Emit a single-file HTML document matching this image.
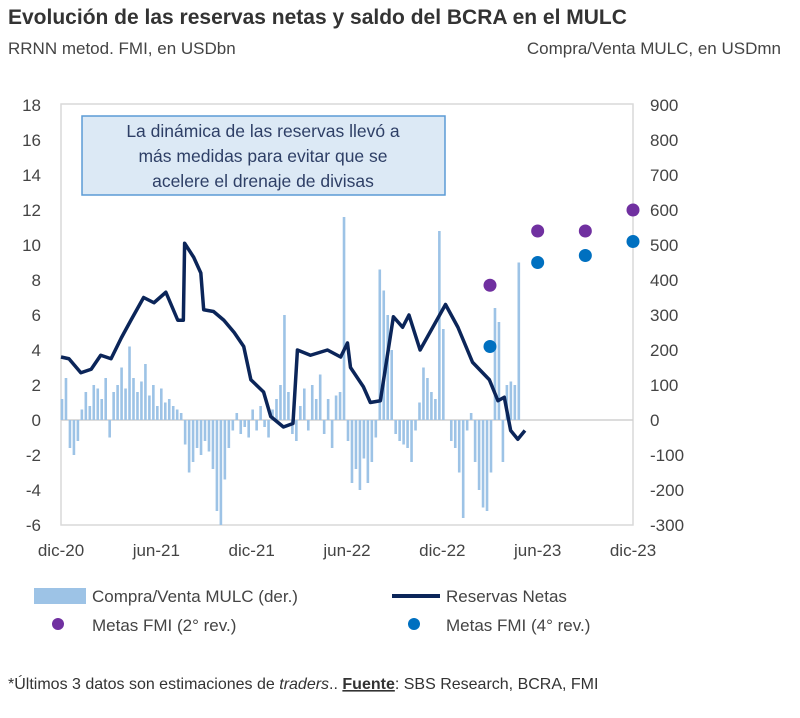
<!DOCTYPE html>
<html><head><meta charset="utf-8"><style>
body{margin:0;background:#fff;font-family:"Liberation Sans",sans-serif;}
svg text{font-family:"Liberation Sans",sans-serif;}
</style></head><body>
<svg width="800" height="713" viewBox="0 0 800 713" xmlns="http://www.w3.org/2000/svg">
<text x="8" y="24" font-size="21" font-weight="bold" fill="#333">Evolución de las reservas netas y saldo del BCRA en el MULC</text>
<text x="8" y="54" font-size="17" fill="#444">RRNN metod. FMI, en USDbn</text>
<text x="781" y="54" font-size="17" fill="#444" text-anchor="end">Compra/Venta MULC, en USDmn</text>
<rect x="61" y="104" width="572" height="421" fill="none" stroke="#d9d9d9" stroke-width="1.5"/>
<line x1="61" y1="420" x2="633" y2="420" stroke="#d0d0d0" stroke-width="1.5"/>
<g id="bars"></g><g id="line"></g><g id="dots"></g><g id="axes"></g>
<rect x="82" y="116" width="363" height="79" fill="#dce9f5" stroke="#5b9bd5" stroke-width="1.5"/>
<g font-size="17.5" fill="#2e3f66" text-anchor="middle">
<text x="263" y="137">La dinámica de las reservas llevó a</text>
<text x="263" y="162">más medidas para evitar que se</text>
<text x="263" y="187">acelere el drenaje de divisas</text></g>
<g font-size="17" fill="#444">
<rect x="34" y="588" width="52" height="16" fill="#9dc3e6"/>
<text x="92" y="602">Compra/Venta MULC (der.)</text>
<line x1="392" y1="596" x2="440" y2="596" stroke="#0b2559" stroke-width="4"/>
<text x="446" y="602">Reservas Netas</text>
<circle cx="58" cy="624" r="6" fill="#7030a0"/>
<text x="92" y="631">Metas FMI (2° rev.)</text>
<circle cx="414" cy="624" r="6" fill="#0070c0"/>
<text x="446" y="631">Metas FMI (4° rev.)</text></g>
<text x="8" y="689" font-size="16" fill="#333">*Últimos 3 datos son estimaciones de <tspan font-style="italic">traders</tspan>.. <tspan font-weight="bold" text-decoration="underline">Fuente</tspan>: SBS Research, BCRA, FMI</text>
</svg>
<script>
const barValues=[60,120,-80,-100,-60,30,80,40,100,90,60,120,-50,80,100,150,90,210,120,80,110,160,70,100,40,90,50,60,40,30,20,-70,-150,-120,-80,-100,-60,-90,-140,-260,-300,-170,-80,-30,20,-40,-20,-50,30,-30,40,-20,-50,30,60,100,300,80,-40,-60,40,90,-30,100,60,130,-40,60,-80,70,80,580,-60,-180,-140,-200,-110,-180,-120,-50,430,370,300,200,-40,-60,-70,-80,-120,-30,50,150,120,80,60,540,260,0,-60,-80,-150,-280,-30,20,-120,-200,-250,-260,-150,320,280,-120,100,110,100,450];
const lineMonths=[0,0.5,1.25,1.9,2.5,3.15,3.8,4.4,5.2,5.85,6.6,7.35,7.7,7.78,8.35,8.8,8.98,9.6,10.25,10.9,11.5,11.95,12.75,13.2,14,14.6,14.88,15.7,16.77,17.6,18.03,18.22,19.03,19.47,20.1,20.92,21.5,21.9,22.6,23.4,24.2,24.98,25.9,26.96,27.5,27.9,28.3,28.75,29.2];
const lineValues=[3.6,3.5,2.7,2.9,3.7,3.5,4.7,5.7,7.0,6.7,7.3,5.7,5.7,10.1,9.3,8.4,6.3,6.2,5.7,5.0,4.2,2.3,1.6,0.2,-0.4,-0.2,4.0,3.7,4.0,3.6,4.4,3.0,1.9,1.0,1.1,5.9,5.3,6.0,4.0,5.3,6.6,5.3,3.3,2.3,1.1,1.3,-0.6,-1.1,-0.6];
const goalMonths=[27,30,33,36];
const goals2=[7.7,10.8,10.8,12.0];
const goals4=[4.2,9.0,9.4,10.2];
const leftTicks=[18,16,14,12,10,8,6,4,2,0,-2,-4,-6];
const rightTicks=[900,800,700,600,500,400,300,200,100,0,-100,-200,-300];
const xTickLabels=["dic-20","jun-21","dic-21","jun-22","dic-22","jun-23","dic-23"];
const xTickMonths=[0,6,12,18,24,30,36];
const NS="http://www.w3.org/2000/svg";
const X=m=>61+m*(572/36);
const YL=v=>420-v*17.5;
const YR=v=>420-v*0.35;
function mk(t,p,a){const e=document.createElementNS(NS,t);for(const k in a)e.setAttribute(k,a[k]);p.appendChild(e);return e;}
const gb=document.getElementById('bars');
barValues.forEach((v,i)=>{const x=X(i/4)+1;const y0=YR(0),y1=YR(v);
const r=mk('rect',gb,{x:x-1.3,y:Math.min(y0,y1),width:2.6,height:Math.abs(y1-y0),fill:'#9dc3e6'});

});
const gl=document.getElementById('line');
const pl=mk('polyline',gl,{points:lineMonths.map((m,i)=>X(m)+','+YL(lineValues[i])).join(' '),fill:'none',stroke:'#0b2559','stroke-width':3.5,'stroke-linejoin':'round'});


const gd=document.getElementById('dots');
goalMonths.forEach((m,i)=>{
const c1=mk('circle',gd,{cx:X(m),cy:YL(goals2[i]),r:6.5,fill:'#7030a0'});


const c2=mk('circle',gd,{cx:X(m),cy:YL(goals4[i]),r:6.5,fill:'#0070c0'});

});
const ga=document.getElementById('axes');
leftTicks.forEach(v=>{const t=mk('text',ga,{x:41,y:YL(v)+6,'font-size':17,fill:'#444','text-anchor':'end'});t.textContent=v;

});
rightTicks.forEach(v=>{const t=mk('text',ga,{x:650,y:YR(v)+6,'font-size':17,fill:'#444'});t.textContent=v;

});
xTickLabels.forEach((s,i)=>{const t=mk('text',ga,{x:X(xTickMonths[i]),y:556,'font-size':17,fill:'#444','text-anchor':'middle'});t.textContent=s;

});
</script>
</body></html>
